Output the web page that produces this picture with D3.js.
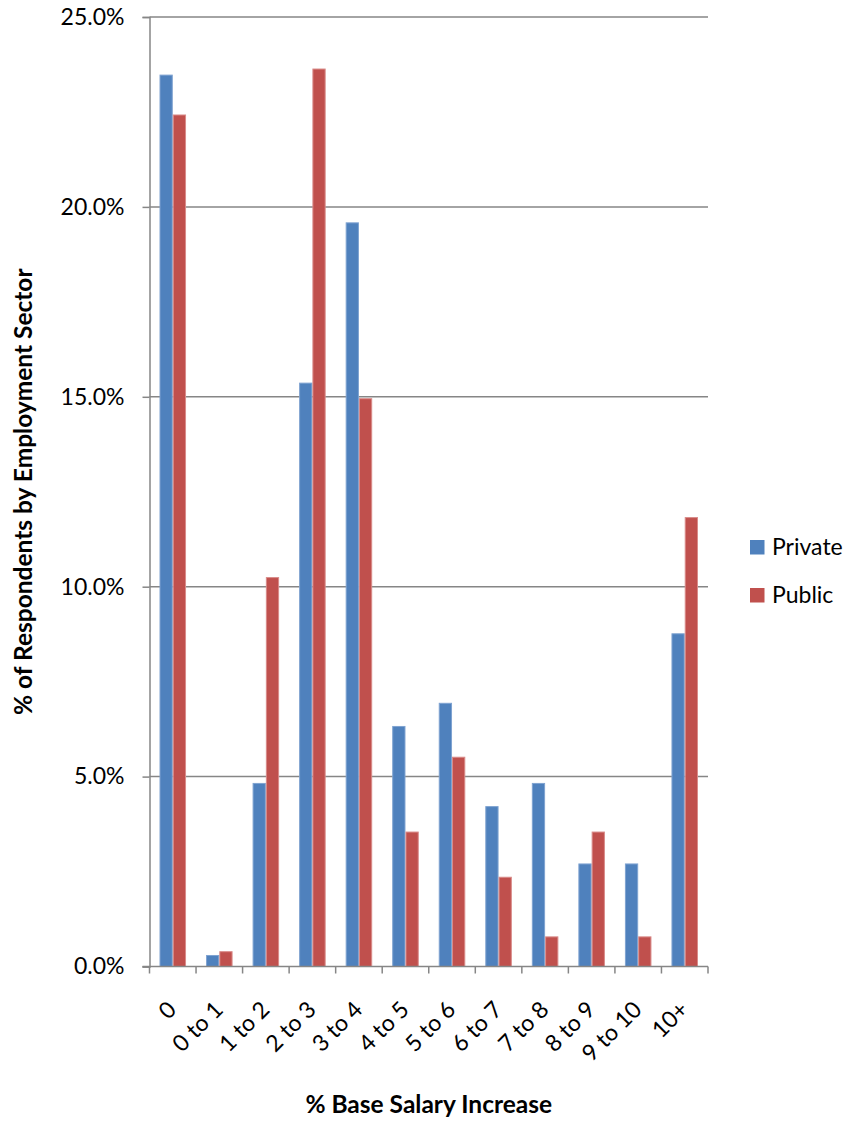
<!DOCTYPE html>
<html>
<head>
<meta charset="utf-8">
<script src="https://cdn.jsdelivr.net/npm/d3@7"></script>
<style>
  html, body { margin: 0; padding: 0; background: #fff; }
  svg { display: block; }
  text { font-family: Lato, "Open Sans", sans-serif; fill: #000; }
</style>
</head>
<body>
<svg id="chart" width="851" height="1122"></svg>
<script>
const categories = ["0", "0 to 1", "1 to 2", "2 to 3", "3 to 4", "4 to 5", "5 to 6", "6 to 7", "7 to 8", "8 to 9", "9 to 10", "10+"];
const seriesNames = ["Private", "Public"];
const privateValues = [23.47, 0.29, 4.82, 15.36, 19.58, 6.32, 6.93, 4.21, 4.82, 2.70, 2.70, 8.76];
const publicValues = [22.42, 0.39, 10.24, 23.63, 14.95, 3.54, 5.51, 2.35, 0.78, 3.54, 0.78, 11.82];
const yTicks = [0, 5, 10, 15, 20, 25];
const colors = ["#4F81BD", "#C0504D"];
const strokes = ["#7FA3D1", "#D98B89"];
const xTitle = "% Base Salary Increase";
const yTitle = "% of Respondents by Employment Sector";

(function () {
const svg = d3.select("#chart");
const mLeft = 149.5, mRight = 708, mTop = 17, mBottom = 966.5;

const x0 = d3.scaleBand().domain(categories).range([mLeft, mRight]).paddingInner(0.43).paddingOuter(0.215);
const xCat = d3.scaleBand().domain(categories).range([mLeft, mRight]).padding(0);
const x1 = d3.scaleBand().domain(seriesNames).range([0, x0.bandwidth()]).padding(0);
const y = d3.scaleLinear().domain([0, 25]).range([mBottom, mTop]);

const gridColor = "#868686";

// gridlines
svg.append("g").selectAll("line").data(yTicks.filter(d => d > 0)).join("line")
  .attr("x1", mLeft).attr("x2", mRight)
  .attr("y1", d => y(d)).attr("y2", d => y(d))
  .attr("stroke", gridColor).attr("stroke-width", 1.5);

// y axis
const yAxis = svg.append("g").attr("transform", `translate(${mLeft},0)`)
  .call(d3.axisLeft(y).tickValues(yTicks).tickSize(7).tickPadding(18).tickFormat(d => d.toFixed(1) + "%"));
yAxis.select(".domain").attr("stroke", gridColor).attr("stroke-width", 1.5);
yAxis.selectAll(".tick line").attr("stroke", gridColor).attr("stroke-width", 1.5);
yAxis.selectAll(".tick text").attr("font-size", 23).attr("font-family", "Lato").attr("fill", "#000");

// bars
const data = categories.map((c, i) => ({ cat: c, vals: [privateValues[i], publicValues[i]] }));
const groups = svg.append("g").selectAll("g").data(data).join("g")
  .attr("transform", d => `translate(${x0(d.cat)},0)`);
groups.selectAll("rect").data(d => d.vals.map((v, j) => ({ v, s: seriesNames[j], j }))).join("rect")
  .attr("x", d => x1(d.s) + 0.5)
  .attr("width", x1.bandwidth() - 1)
  .attr("y", d => y(d.v))
  .attr("height", d => mBottom - y(d.v))
  .attr("fill", d => colors[d.j])
  .attr("stroke", d => strokes[d.j])
  .attr("stroke-width", 1);

// x axis
const xAxisG = svg.append("g");
xAxisG.append("line").attr("x1", mLeft - 7).attr("x2", mRight).attr("y1", mBottom).attr("y2", mBottom)
  .attr("stroke", gridColor).attr("stroke-width", 1.5);
const boundaries = categories.map(c => xCat(c)).concat([xCat(categories[categories.length - 1]) + xCat.bandwidth()]);
xAxisG.selectAll("line.tick").data(boundaries).join("line").attr("class", "tick")
  .attr("x1", d => d).attr("x2", d => d).attr("y1", mBottom).attr("y2", mBottom + 7)
  .attr("stroke", gridColor).attr("stroke-width", 1.5);
xAxisG.selectAll("text").data(categories).join("text")
  .attr("transform", d => `translate(${xCat(d) + xCat.bandwidth() / 2 + 5},${1011}) rotate(-45)`)
  .attr("text-anchor", "end")
  .attr("font-size", 23)
  .text(d => d);

// axis titles
svg.append("text").attr("x", (mLeft + mRight) / 2).attr("y", 1113)
  .attr("text-anchor", "middle").attr("font-size", 24.5).attr("font-weight", "bold").text(xTitle);
svg.append("text").attr("transform", `translate(32,${(mTop + mBottom) / 2}) rotate(-90)`)
  .attr("text-anchor", "middle").attr("font-size", 24.5).attr("font-weight", "bold").text(yTitle);

// legend
const legend = svg.append("g");
seriesNames.forEach((s, i) => {
  const ly = 540 + i * 48;
  legend.append("rect").attr("x", 750).attr("y", ly).attr("width", 14.5).attr("height", 14.5).attr("fill", colors[i]);
  legend.append("text").attr("x", 772).attr("y", ly + 15).attr("font-size", 23).text(s);
});
})();
</script>
</body>
</html>
